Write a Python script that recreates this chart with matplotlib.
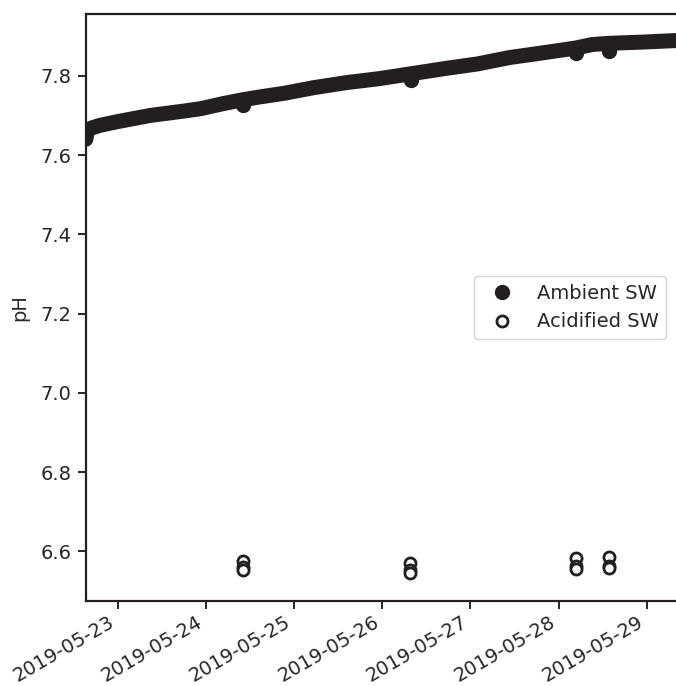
import numpy as np
import pandas as pd
import matplotlib
matplotlib.use("Agg")
import matplotlib.pyplot as plt
import matplotlib.dates as mdates

# Continuous ambient seawater pH (sensor record), day-of-May 2019 -> pH
sensor_day = [22.641, 22.660, 22.70, 22.80, 22.99, 23.37, 23.75, 23.94, 24.20,
              24.43, 24.62, 24.89, 25.22, 25.60, 25.97, 26.35, 26.73, 27.08,
              27.44, 27.82, 28.19, 28.38, 28.57, 28.94, 29.33]
sensor_ph = [7.640, 7.662, 7.668, 7.675, 7.684, 7.700, 7.711, 7.717, 7.730,
             7.740, 7.747, 7.756, 7.770, 7.783, 7.793, 7.806, 7.819, 7.830,
             7.846, 7.858, 7.870, 7.879, 7.882, 7.885, 7.889]

# Discrete bottle samples
amb_day = [24.42, 26.33, 28.20, 28.57]
amb_ph = [7.726, 7.789, 7.858, 7.862]

acid_day = [24.42, 24.42, 24.42, 26.31, 26.31, 26.31,
            28.20, 28.20, 28.20, 28.57, 28.57, 28.57]
acid_ph = [6.575, 6.560, 6.552, 6.570, 6.552, 6.545,
           6.583, 6.562, 6.555, 6.585, 6.563, 6.557]


def to_time(days):
    return pd.Timestamp("2019-05-01") + pd.to_timedelta(np.array(days) - 1, unit="D")


ink = "#231f20"
plt.rcParams["font.family"] = "DejaVu Sans"
plt.rcParams["font.size"] = 14
plt.rcParams["text.color"] = "#262626"
plt.rcParams["axes.labelcolor"] = "#262626"
plt.rcParams["xtick.color"] = "#262626"
plt.rcParams["ytick.color"] = "#262626"

fig = plt.figure(figsize=(6.76, 6.86), dpi=100)
ax = fig.add_axes([0.127, 0.124, 0.873, 0.8556])

ax.plot(to_time(sensor_day), sensor_ph, color=ink, lw=10.8,
        solid_capstyle="round", solid_joinstyle="round")
ax.plot(to_time(amb_day), amb_ph, "o", color=ink, ms=10, label="Ambient SW")
ax.plot(to_time(acid_day), acid_ph, "o", mfc="white", mec=ink, mew=2, ms=8,
        label="Acidified SW")

ax.set_xlim(to_time([22.641])[0], to_time([29.33])[0])
ax.set_ylim(6.475, 7.956)
ax.set_ylabel("pH", labelpad=8)

ax.xaxis.set_major_locator(mdates.DayLocator())
ax.xaxis.set_major_formatter(mdates.DateFormatter("%Y-%m-%d"))
for lbl in ax.get_xticklabels():
    lbl.set_rotation(30)
    lbl.set_ha("right")

for side in ["left", "bottom", "top"]:
    ax.spines[side].set_linewidth(1.6)
    ax.spines[side].set_color(ink)
ax.spines["right"].set_visible(False)
ax.tick_params(width=1.4, length=5.5)
ax.tick_params(axis="y", pad=5)
ax.tick_params(axis="x", pad=3)

ax.legend(loc="center right", frameon=True, edgecolor="#cccccc", fontsize=14)

fig.savefig("out.png", dpi=100)
